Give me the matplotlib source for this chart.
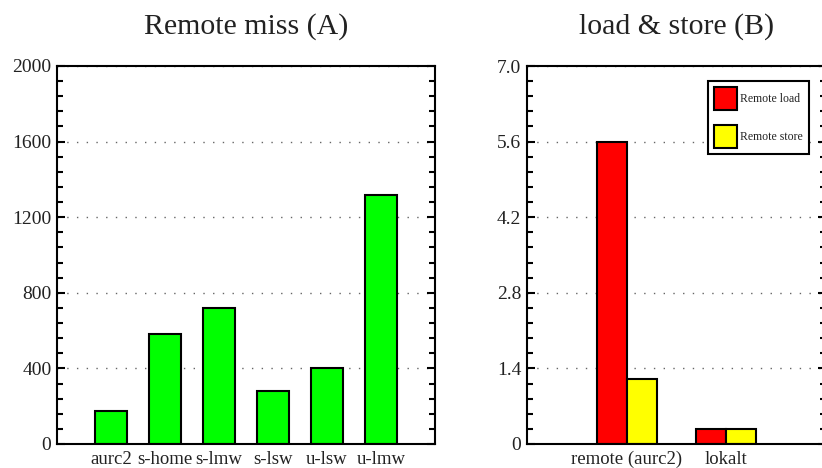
import matplotlib
matplotlib.use('Agg')
import matplotlib.pyplot as plt
from matplotlib.ticker import MultipleLocator, AutoMinorLocator, FuncFormatter
import numpy as np

plt.rcParams['font.family'] = 'serif'
plt.rcParams['font.serif'] = ['Liberation Serif', 'DejaVu Serif']

# data
miss_labels = ['aurc2', 's-home', 's-lmw', 's-lsw', 'u-lsw', 'u-lmw']
miss_values = [175, 580, 720, 280, 400, 1320]

ls_labels = ['remote (aurc2)', 'lokalt']
remote_load = [5.6, 0.27]
remote_store = [1.2, 0.27]

fig = plt.figure(figsize=(8.22, 4.68), dpi=100)
ax1 = fig.add_axes([57 / 822, 24 / 468, 378 / 822, 378 / 468])
ax2 = fig.add_axes([527 / 822, 24 / 468, 299 / 822, 378 / 468])


def style_axis(ax, major, ymax, fmt):
    ax.set_ylim(0, ymax)
    ax.yaxis.set_major_locator(MultipleLocator(major))
    ax.yaxis.set_minor_locator(AutoMinorLocator(5))
    ax.yaxis.set_major_formatter(FuncFormatter(fmt))
    ax.tick_params(axis='y', which='both', direction='in', left=True, right=True,
                   width=1.5, labelsize=14, pad=4, labelcolor='#222222')
    ax.tick_params(axis='y', which='major', length=6)
    ax.tick_params(axis='y', which='minor', length=4)
    ax.tick_params(axis='x', length=0, labelsize=13.5, pad=5, labelcolor='#222222')
    for s in ax.spines.values():
        s.set_linewidth(1.5)
    ax.grid(True, axis='y', which='major', color='#666666', linestyle=(0, (1, 6)),
            linewidth=1)
    ax.set_axisbelow(True)


# left panel
x1 = np.arange(1, len(miss_labels) + 1)
ax1.bar(x1, miss_values, 0.6, color='#00ff00', edgecolor='black', linewidth=1.5)
ax1.set_xlim(0, 7)
ax1.set_xticks(x1)
ax1.set_xticklabels(miss_labels)
style_axis(ax1, 400, 2000, lambda v, p: f'{v:.0f}')
ax1.set_title('Remote miss (A)', fontsize=21.5, pad=23, color='#222222')

# right panel
x2 = np.arange(1, len(ls_labels) + 1)
w = 0.3
ax2.bar(x2 - w / 2, remote_load, w, color='#ff0000', edgecolor='black',
        linewidth=1.5, label='Remote load')
ax2.bar(x2 + w / 2, remote_store, w, color='#ffff00', edgecolor='black',
        linewidth=1.5, label='Remote store')
ax2.set_xlim(0, 3)
ax2.set_xticks(x2)
ax2.set_xticklabels(ls_labels)
style_axis(ax2, 1.4, 7.0, lambda v, p: '0' if abs(v) < 1e-9 else f'{v:.1f}')
ax2.set_title('load & store (B)', fontsize=21.5, pad=23, color='#222222')

leg = ax2.legend(loc='upper right', bbox_to_anchor=(809 / 822, 1 - 81 / 468),
                 bbox_transform=fig.transFigure, fontsize=8.5, fancybox=False,
                 handlelength=1.9, handleheight=2.6, handletextpad=0.25,
                 labelspacing=1.25, borderpad=0.55, borderaxespad=0)
leg.get_frame().set_edgecolor('black')
leg.get_frame().set_linewidth(1.5)
leg.get_frame().set_alpha(1)
for t in leg.get_texts():
    t.set_color('#222222')

fig.savefig('out.png', dpi=100, facecolor='white')
